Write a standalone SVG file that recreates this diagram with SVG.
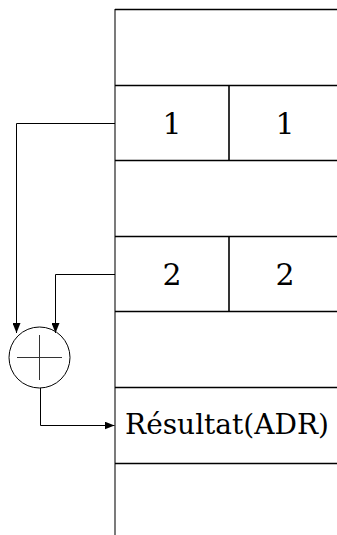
<svg xmlns="http://www.w3.org/2000/svg" width="337" height="535" viewBox="0 0 337 535">
<style>
.frame{stroke:#000;stroke-width:1.6;fill:none}
.axis{stroke:#333;stroke-width:1.3;fill:none}
.conn{stroke:#000;stroke-width:1;fill:none}
.lbl{font-family:'DejaVu Serif','Liberation Serif',serif;font-size:30px;fill:#000}
.res{font-size:28px}
</style>
<defs>
<marker id="arr" viewBox="0 0 10 8" refX="10" refY="4" markerWidth="10" markerHeight="8" markerUnits="userSpaceOnUse" orient="auto">
<path d="M0,0 L10,4 L0,8 Z" fill="#000"/>
</marker>
</defs>
<rect width="337" height="535" fill="#fff"/>
<g id="memory">
<line class="axis" x1="115" y1="9" x2="115" y2="535"/>
<line class="frame" x1="115" y1="9.5" x2="337" y2="9.5"/>
<line class="frame" x1="115" y1="85.5" x2="337" y2="85.5"/>
<line class="frame" x1="115" y1="160.5" x2="337" y2="160.5"/>
<line class="frame" x1="115" y1="236.5" x2="337" y2="236.5"/>
<line class="frame" x1="115" y1="311.5" x2="337" y2="311.5"/>
<line class="frame" x1="115" y1="387.5" x2="337" y2="387.5"/>
<line class="frame" x1="115" y1="463.5" x2="337" y2="463.5"/>
</g>
<g id="cell1">
<line class="frame" x1="229" y1="85.5" x2="229" y2="160.5"/>
<text class="lbl" x="172" y="134" text-anchor="middle">1</text>
<text class="lbl" x="285" y="134" text-anchor="middle">1</text>
</g>
<g id="cell2">
<line class="frame" x1="229" y1="236.5" x2="229" y2="311.5"/>
<text class="lbl" x="172" y="285" text-anchor="middle">2</text>
<text class="lbl" x="285" y="285" text-anchor="middle">2</text>
</g>
<g id="result">
<text class="lbl res" x="227" y="434" text-anchor="middle">Résultat(ADR)</text>
</g>
<g id="adder">
<circle cx="39.5" cy="357.5" r="30.5" fill="#fff" stroke="#000" stroke-width="1"/>
<line x1="17" y1="357.5" x2="62" y2="357.5" stroke="#333" stroke-width="1"/>
<line x1="39.5" y1="335" x2="39.5" y2="380" stroke="#333" stroke-width="1"/>
</g>
<g id="connectors">
<polyline class="conn" points="115,123.5 16.5,123.5 16.5,333" marker-end="url(#arr)"/>
<polyline class="conn" points="115,274.5 55.5,274.5 55.5,333" marker-end="url(#arr)"/>
<polyline class="conn" points="40.5,388 40.5,425.5 114.5,425.5" marker-end="url(#arr)"/>
</g>
</svg>
